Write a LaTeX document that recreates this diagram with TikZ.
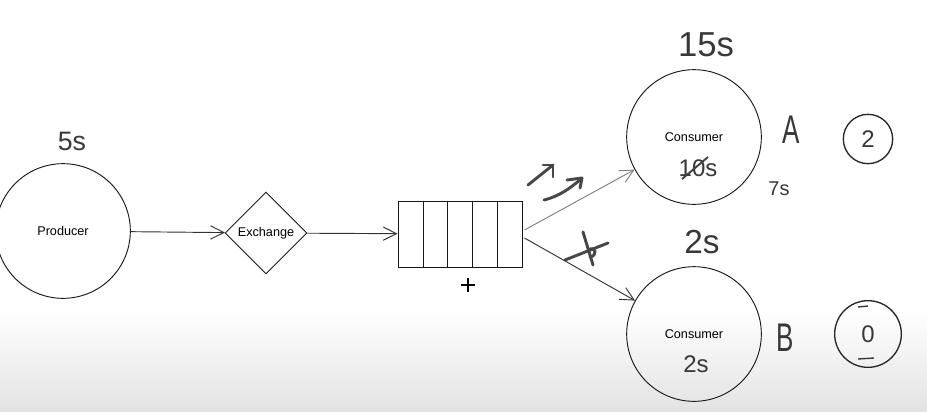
\documentclass[tikz,border=0pt]{standalone}
\usepackage{fontspec}
\setmainfont{Liberation Sans}
\usetikzlibrary{shapes.geometric,arrows.meta,calc}
\begin{document}
\begin{tikzpicture}[x=0.75pt,y=-0.75pt,
  circ/.style={circle, draw=black!90, line width=0.7pt, minimum size=101pt, inner sep=0pt, font=\fontsize{9.5}{10}\selectfont},
  hand/.style={font=\fontsize{#1}{#1}\selectfont, text=black!78, inner sep=0pt},
  conn/.style={line width=0.7pt, draw=black!80, -{Straight Barb[length=10pt,width=10pt,line width=0.7pt]}},
  stroke/.style={line width=2.2pt, draw=black!72, line cap=round, line join=round},
]
% background
\useasboundingbox (0,0) rectangle (927,411);
\fill[white] (0,0) rectangle (927,411);
\fill[top color=white, bottom color=black!11] (0,310) rectangle (927,411);

% nodes
\node[circ] (prod) at (63,231) {Producer};
\node[diamond, draw=black!90, line width=0.7pt, minimum width=61.5pt, minimum height=61.5pt, inner sep=0pt, font=\fontsize{9.5}{10}\selectfont] (ex) at (266,233) {Exchange};
\node[rectangle, draw=black!90, line width=0.7pt, minimum width=93pt, minimum height=49.5pt, inner sep=0pt] (q) at (460,234) {};
\foreach \dx in {26,50,75,100}
  \draw[line width=0.7pt, black!90] ($(q.north west)+(\dx,0)$) -- ($(q.south west)+(\dx,0)$);
\node[circ] (cA) at (694,137) {Consumer};
\node[circ] (cB) at (694,334) {Consumer};

% connectors
\draw[conn] (prod) -- (ex);
\draw[conn] (ex) -- (q);
\draw[conn, draw=black!50] ($(q.east)+(2,-4)$) -- (cA);
\draw[conn] ($(q.east)+(2,4)$) -- (cB);

% labels
\node[hand=20] (t5) at (72,141) {5s};
\node[hand=26] (t15) at (706,45) {15s};
\node[hand=18] (t10) at (698,168) {10s};
\draw[line width=1.4pt, black!75] (682,179) -- (708,157);
\node[hand=15] (t7) at (779,189) {7s};
\node[hand=30, xscale=0.65] (tA) at (791,130) {A};
\node[circle, draw=black!85, line width=1pt, minimum size=37pt, inner sep=0pt, font=\fontsize{18}{18}\selectfont, text=black!78] (n2) at (868,139) {2};

\node[hand=25] (t2top) at (702,242) {2s};
\node[hand=18] (t2in) at (696,364) {2s};
\node[hand=30, xscale=0.65] (tB) at (785,338) {B};
\node[circle, draw=black!85, line width=1pt, minimum size=50pt, inner sep=0pt, font=\fontsize{18}{18}\selectfont, text=black!78] (n0) at (868,334) {0};
\draw[line width=1pt, black!80] (858,307) -- (868,306);
\draw[line width=1pt, black!80] (858,359) -- (874,358);

% plus sign under the queue
\draw[line width=0.8pt] (461,285) -- (475,285) (468,278) -- (468,292);

% small hand arrows
\draw[stroke] (528,185) -- (553,165);
\draw[stroke] (543,165) -- (553,165) -- (553,177);
\draw[stroke] (544,200) .. controls (560,196) and (570,188) .. (580,180);
\draw[stroke] (567,180) -- (582,178) -- (580,188);
% crossed arrow
\draw[stroke] (565,260) -- (608,243);
\draw[stroke] (583,232) -- (593,265);
\draw[stroke] (588,250) .. controls (596,245) and (598,256) .. (590,257);
\end{tikzpicture}
\end{document}
